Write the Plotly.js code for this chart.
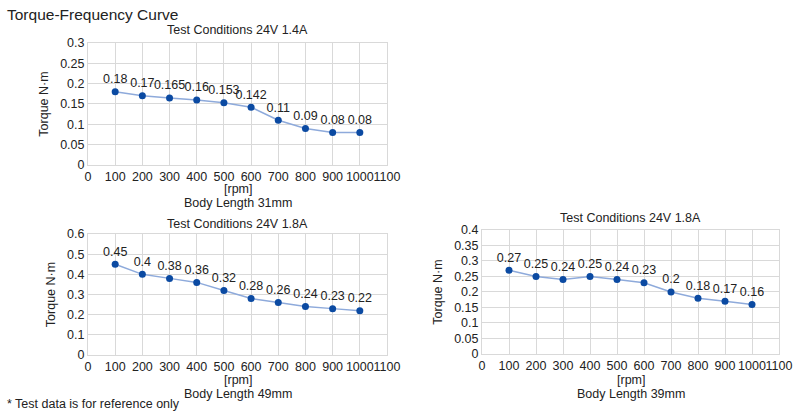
<!DOCTYPE html>
<html>
<head>
<meta charset="utf-8">
<script src="https://cdn.plot.ly/plotly-3.0.1.min.js"></script>
<style>html,body{margin:0;padding:0;background:#fff;}#chart{width:800px;height:413px;}</style>
</head>
<body>
<div id="chart"></div>
<script>
const rpm = [100, 200, 300, 400, 500, 600, 700, 800, 900, 1000];
const torque31 = [0.18, 0.17, 0.165, 0.16, 0.153, 0.142, 0.11, 0.09, 0.08, 0.08];
const torque49 = [0.45, 0.4, 0.38, 0.36, 0.32, 0.28, 0.26, 0.24, 0.23, 0.22];
const torque39 = [0.27, 0.25, 0.24, 0.25, 0.24, 0.23, 0.2, 0.18, 0.17, 0.16];

const mainTitle = "Torque-Frequency Curve";
const chartTitles = ["Test Conditions 24V 1.4A", "Test Conditions 24V 1.8A", "Test Conditions 24V 1.8A"];
const xUnit = "[rpm]";
const bodyLengths = ["Body Length 31mm", "Body Length 49mm", "Body Length 39mm"];
const yTitle = "Torque N·m";
const footnote = "* Test data is for reference only";

const FONT = "Liberation Sans, Arial, sans-serif";
const TXT = "#222";
const FS = 12.5;

function series(y, xa, ya) {
  return {
    x: rpm, y: y, xaxis: xa, yaxis: ya,
    type: "scatter", mode: "lines+markers+text",
    text: y.map(v => String(v)), textposition: "top center",
    textfont: {family: FONT, size: FS, color: TXT},
    line: {color: "#8eaadb", width: 1.5},
    marker: {color: "#0b4aa2", size: 7},
    cliponaxis: false, showlegend: false, hoverinfo: "x+y"
  };
}

const data = [
  series(torque31, "x", "y"),
  series(torque49, "x2", "y2"),
  series(torque39, "x3", "y3")
];

function xax(domain, anchor) {
  return {
    domain: domain, anchor: anchor, range: [0, 1100], dtick: 100, tick0: 0,
    tickangle: 0,
    showgrid: true, gridcolor: "#d9d9d9", gridwidth: 1, zeroline: false,
    showline: true, linecolor: "#d9d9d9", mirror: true, ticks: "",
    tickfont: {family: FONT, size: FS, color: TXT}
  };
}
function yax(domain, anchor, range, dtick) {
  return {
    domain: domain, anchor: anchor, range: range, dtick: dtick, tick0: 0,
    showgrid: true, gridcolor: "#d9d9d9", gridwidth: 1, zeroline: false,
    showline: true, linecolor: "#d9d9d9", mirror: true, ticks: "",
    tickfont: {family: FONT, size: FS, color: TXT},
    title: {text: yTitle, font: {family: FONT, size: FS, color: TXT}, standoff: 8}
  };
}

function ann(text, xref, x, ypx, xanchor, size) {
  return {text: text, xref: xref, yref: "paper", x: x, y: 1 - ypx/413,
          xanchor: xanchor, yanchor: "middle", showarrow: false,
          font: {family: FONT, size: size || FS, color: TXT}};
}

const layout = {
  width: 800, height: 413,
  margin: {l: 0, r: 0, t: 0, b: 0},
  paper_bgcolor: "#fff", plot_bgcolor: "#fff",
  font: {family: FONT, color: TXT},
  xaxis: xax([0.11, 0.48375], "y"),
  yaxis: yax([0.6005, 0.8959], "x", [0, 0.3], 0.05),
  xaxis2: xax([0.11, 0.48375], "y2"),
  yaxis2: yax([0.1404, 0.4334], "x2", [0, 0.6], 0.1),
  xaxis3: xax([0.6025, 0.97375], "y3"),
  yaxis3: yax([0.1429, 0.4431], "x3", [0, 0.4], 0.05),
  annotations: [
    ann(mainTitle, "paper", 5/800, 14, "left", 15.5),
    ann(chartTitles[0], "x domain", 0.5, 30, "center"),
    ann(chartTitles[1], "x2 domain", 0.5, 224, "center"),
    ann(chartTitles[2], "x3 domain", 0.5, 218, "center"),
    ann(xUnit, "x domain", 0.5, 189, "center"),
    ann(bodyLengths[0], "x domain", 0.5, 203, "center"),
    ann(xUnit, "x2 domain", 0.5, 380, "center"),
    ann(bodyLengths[1], "x2 domain", 0.5, 394, "center"),
    ann(xUnit, "x3 domain", 0.5, 380, "center"),
    ann(bodyLengths[2], "x3 domain", 0.5, 394, "center"),
    ann(footnote, "paper", 5/800, 404, "left")
  ]
};

Plotly.newPlot("chart", data, layout, {displayModeBar: false, staticPlot: true});
</script>
</body>
</html>
